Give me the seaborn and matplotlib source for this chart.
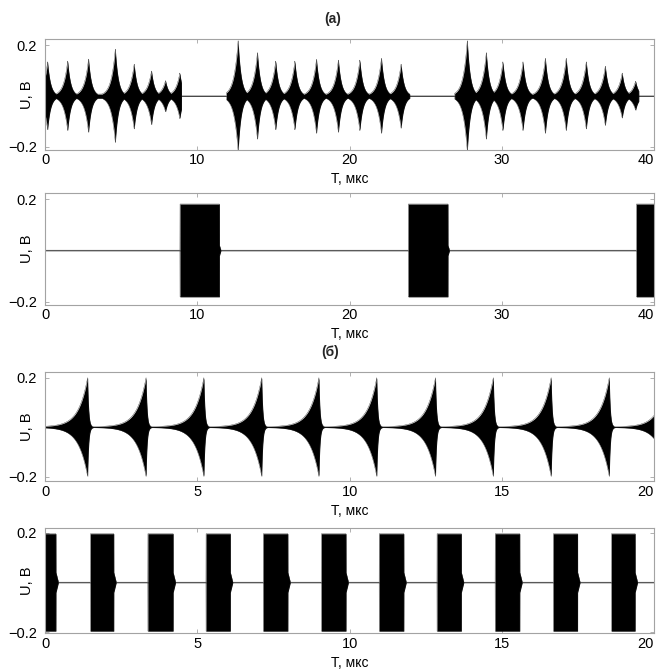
import numpy as np
import pandas as pd
import matplotlib
matplotlib.use("Agg")
import matplotlib.pyplot as plt
import seaborn as sns

# ---------------- data ----------------
# panel (а), top: spike trains (time of spike, +amplitude, -amplitude)
A_SPIKE_T = [0.15, 1.47, 2.84, 4.60, 5.84, 6.98, 7.90, 8.84,
             12.67, 13.94, 15.14, 16.40, 17.82, 19.26, 20.67, 22.09, 23.38,
             27.73, 28.98, 30.07, 31.39, 32.86, 34.23, 35.55, 36.80, 37.91, 38.79]
A_SPIKE_POS = [0.134, 0.137, 0.145, 0.184, 0.125, 0.098, 0.060, 0.090,
               0.217, 0.170, 0.137, 0.137, 0.144, 0.141, 0.141, 0.148, 0.125,
               0.217, 0.170, 0.134, 0.134, 0.148, 0.148, 0.134, 0.117, 0.090, 0.058]
A_SPIKE_NEG = [0.131, 0.134, 0.141, 0.181, 0.128, 0.111, 0.060, 0.087,
               0.215, 0.168, 0.131, 0.131, 0.145, 0.141, 0.134, 0.145, 0.125,
               0.215, 0.168, 0.134, 0.134, 0.145, 0.134, 0.128, 0.114, 0.085, 0.054]
A_ACTIVE_START = [0.0, 11.9, 26.9]
A_ACTIVE_END = [8.95, 23.95, 39.0]

# panel (а), bottom: rectangular bursts
B_BLOCK_START = [8.85, 23.85, 38.84]
B_BLOCK_END = [11.44, 26.46, 40.5]
B_AMP = 0.18

# panel (б), top: growing spikes
C_PEAK_T = [1.39, 3.31, 5.21, 7.11, 8.99, 10.89, 12.82, 14.72, 16.62, 18.53, 20.44]
C_PEAK_AMP = [0.198] * 11

# panel (б), bottom: rectangular bursts
D_BLOCK_START = [0.0, 1.48, 3.37, 5.28, 7.16, 9.07, 10.97, 12.87, 14.78, 16.69, 18.60]
D_BLOCK_END = [0.35, 2.25, 4.20, 6.08, 7.97, 9.88, 11.78, 13.67, 15.59, 17.49, 19.38]
D_AMP = 0.195

X_TICKS_A = [0, 10, 20, 30, 40]
X_TICKS_B = [0, 5, 10, 15, 20]
Y_TICKS = [-0.2, 0.2]
Y_TICKLABELS = ["\u22120.2", "0.2"]
X_LABEL = "T, мкс"
Y_LABEL = "U, В"
TITLES = ["(а)", "(б)"]

# ---------------- envelopes ----------------
FLOOR = 0.0012


def spike_env(t, times, amps, tau_r, tau_f):
    env = np.zeros_like(t)
    for tp, a in zip(times, amps):
        shape = np.where(t < tp, np.exp(-(tp - t) / tau_r), np.exp(-(t - tp) / tau_f))
        env = np.maximum(env, a * shape)
    return env


def block_env(t, starts, ends, amp, tail=0.0, tail_len=0.09):
    env = np.zeros_like(t)
    for s, e in zip(starts, ends):
        env = np.where((t >= s) & (t <= e), amp, env)
        if tail > 0:
            m = (t > e) & (t <= e + tail_len)
            env = np.where(m, np.maximum(env, tail * (1 - (t - e) / tail_len)), env)
    return env


tA = np.linspace(0, 40, 16001)
act = np.zeros_like(tA, dtype=bool)
for s, e in zip(A_ACTIVE_START, A_ACTIVE_END):
    act |= (tA >= s) & (tA <= e)
a_pos = np.where(act, np.maximum(spike_env(tA, A_SPIKE_T, A_SPIKE_POS, 0.27, 0.20), 0.007), 0) + FLOOR
a_neg = np.where(act, np.maximum(spike_env(tA, A_SPIKE_T, A_SPIKE_NEG, 0.27, 0.20), 0.007), 0) + FLOOR

b_env = block_env(tA, B_BLOCK_START, B_BLOCK_END, B_AMP, tail=0.02, tail_len=0.1) + FLOOR

tC = np.linspace(0, 20, 16001)
c_env = spike_env(tC, C_PEAK_T, C_PEAK_AMP, 0.30, 0.035) + FLOOR
d_env = block_env(tC, D_BLOCK_START, D_BLOCK_END, D_AMP, tail=0.04, tail_len=0.08) + FLOOR

panels = [
    pd.DataFrame({"t": tA, "up": a_pos, "lo": -a_neg}),
    pd.DataFrame({"t": tA, "up": b_env, "lo": -b_env}),
    pd.DataFrame({"t": tC, "up": c_env, "lo": -c_env}),
    pd.DataFrame({"t": tC, "up": d_env, "lo": -d_env}),
]

# ---------------- figure ----------------
sns.set_theme(style="white")
plt.rcParams["font.family"] = ["Liberation Sans", "DejaVu Sans"]

W, H = 657, 671
fig = plt.figure(figsize=(W / 100, H / 100), dpi=100)

# (left, top, right, bottom) in pixels
boxes = [(45.3, 39.3, 654, 149.5), (45.3, 193.3, 654, 305),
         (45.3, 372.3, 654, 481.3), (45.3, 528.3, 654, 633.3)]
ylims = [(-0.21, 0.224), (-0.213, 0.223), (-0.219, 0.221), (-0.205, 0.218)]
xlims = [(0, 40), (0, 40), (0, 20), (0, 20)]
xticks = [X_TICKS_A, X_TICKS_A, X_TICKS_B, X_TICKS_B]
SPINE = "#a3a3a3"

for i, (df, (l, tp, r, b)) in enumerate(zip(panels, boxes)):
    ax = fig.add_axes([l / W, 1 - b / H, (r - l) / W, (b - tp) / H])
    ax.fill_between(df["t"], df["lo"], df["up"], color="black", lw=0)
    sns.lineplot(data=df, x="t", y="up", ax=ax, color="#202020", lw=0.25,
                 estimator=None, sort=False)
    sns.lineplot(data=df, x="t", y="lo", ax=ax, color="#202020", lw=0.25,
                 estimator=None, sort=False)
    ax.set_xlim(*xlims[i])
    ax.set_ylim(*ylims[i])
    ax.set_xticks(xticks[i])
    ax.set_xticklabels([str(v) for v in xticks[i]])
    ax.get_xticklabels()[-1].set_horizontalalignment("right")
    ax.get_xticklabels()[-1].set_x(xticks[i][-1])
    ax.set_yticks(Y_TICKS)
    ax.set_yticklabels(Y_TICKLABELS)
    ax.tick_params(axis="both", direction="in", length=3, width=0.6, color=SPINE,
                   top=True, right=True, bottom=True, left=True,
                   labelsize=10.5, labelcolor="black")
    ax.tick_params(axis="x", pad=2.5)
    ax.tick_params(axis="y", pad=6)
    for sp in ax.spines.values():
        sp.set_color(SPINE)
        sp.set_linewidth(0.8)
        sp.set_visible(True)
    hpx = b - tp
    ax.set_xlabel(X_LABEL, fontsize=10, color="black")
    ax.xaxis.set_label_coords(0.5, -22.5 / hpx)
    ax.set_ylabel(Y_LABEL, fontsize=10.5, color="black")
    ax.yaxis.set_label_coords(-11.5 / (r - l), 0.5)
    ax.grid(False)

fig.text(333 / W, 1 - 19 / H, TITLES[0], ha="center", va="center",
         fontsize=10, fontweight="bold")
fig.text(330 / W, 1 - 352 / H, TITLES[1], ha="center", va="center",
         fontsize=10, fontweight="bold")

fig.savefig("out.png", dpi=100)
